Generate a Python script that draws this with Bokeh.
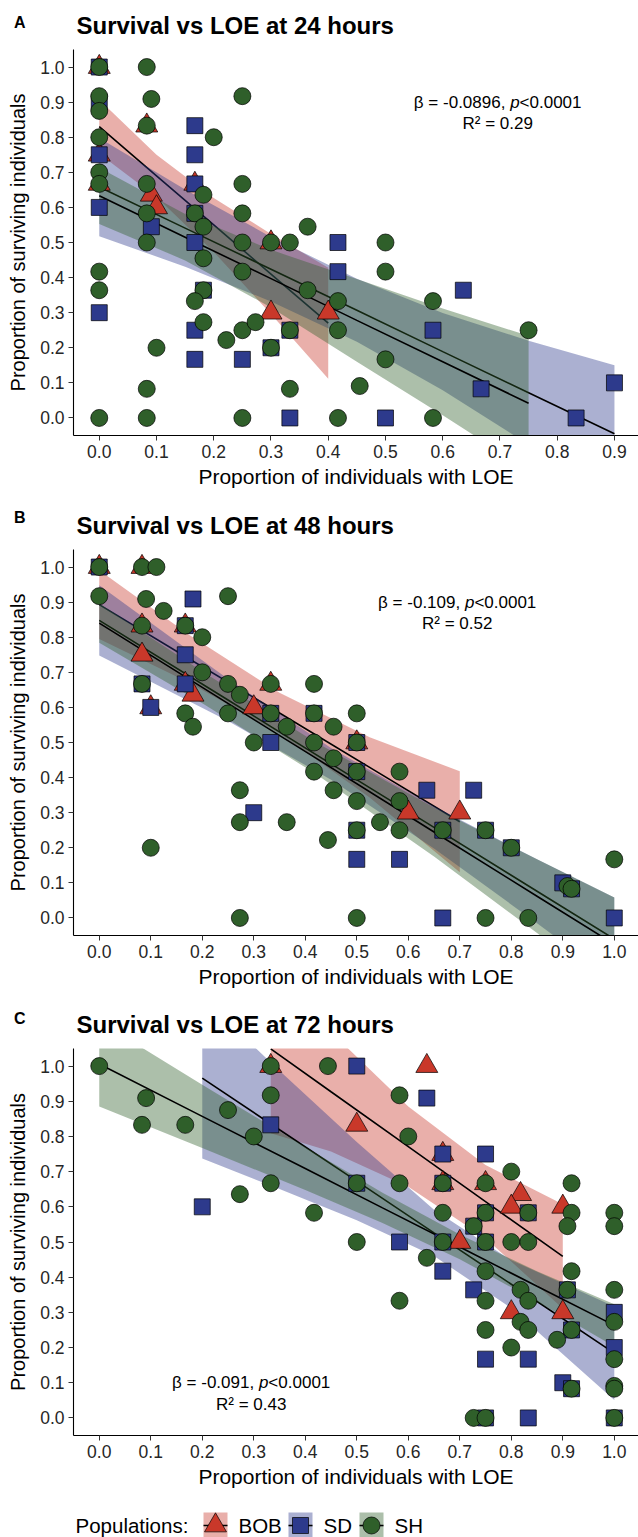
from bokeh.plotting import figure
from bokeh.layouts import column
from bokeh.models import Range1d, Label, FixedTicker, NumeralTickFormatter
from bokeh.embed import file_html
from bokeh.resources import INLINE

FONT = "Liberation Sans"
POPS = ["BOB", "SD", "SH"]
MARKER = {"BOB": "triangle", "SD": "square", "SH": "circle"}
FILL = {"BOB": "#C9382A", "SD": "#2D3A8C", "SH": "#2F5F2A"}
SIZE = {"BOB": 22, "SD": 16, "SH": 17}

# ---------------- 24 hours ----------------
h24_bob_x = [0, 0, 0, 0.083, 0.091, 0.1, 0.167, 0.3, 0.3, 0.4]
h24_bob_y = [1.0, 0.75, 0.667, 0.833, 0.636, 0.6, 0.667, 0.5, 0.3, 0.3]
h24_sd_x = [0, 0, 0, 0, 0, 0.091, 0.167, 0.167, 0.167, 0.167, 0.167, 0.182, 0.167, 0.167,
            0.25, 0.3, 0.333, 0.333, 0.417, 0.417, 0.5, 0.583, 0.636, 0.667, 0.833, 0.9]
h24_sd_y = [1.0, 0.9, 0.75, 0.6, 0.3, 0.545, 0.833, 0.75, 0.667, 0.583, 0.5, 0.364, 0.25, 0.167,
            0.167, 0.2, 0.25, 0, 0.5, 0.417, 0, 0.25, 0.364, 0.083, 0, 0.1]
h24_sh_x = [0, 0, 0, 0, 0, 0, 0, 0, 0,
            0.083, 0.091, 0.083, 0.083, 0.083, 0.083, 0.083, 0.083,
            0.1, 0.167, 0.182, 0.182, 0.182, 0.182, 0.167, 0.182, 0.2, 0.222,
            0.25, 0.25, 0.25, 0.25, 0.25, 0.25, 0.25, 0.273,
            0.3, 0.3, 0.333, 0.333, 0.333, 0.364, 0.364,
            0.417, 0.417, 0.417, 0.455, 0.5, 0.5, 0.5, 0.583, 0.583, 0.75]
h24_sh_y = [1.0, 0.917, 0.875, 0.8, 0.7, 0.667, 0.417, 0.364, 0,
            1.0, 0.909, 0.833, 0.667, 0.583, 0.5, 0.083, 0,
            0.2, 0.583, 0.636, 0.545, 0.455, 0.364, 0.333, 0.273, 0.8, 0.222,
            0.917, 0.667, 0.583, 0.5, 0.417, 0.25, 0, 0.273,
            0.5, 0.2, 0.5, 0.25, 0.083, 0.545, 0.364,
            0.333, 0.25, 0, 0.091, 0.5, 0.417, 0.167, 0.333, 0, 0.25]

# fitted lines with 95% bands: (x, fit, lower, upper)
fit24_bob = ([0.0, 0.1, 0.2, 0.3, 0.4],
             [0.83, 0.69, 0.55, 0.41, 0.27],
             [0.753, 0.630, 0.473, 0.296, 0.112],
             [0.907, 0.750, 0.627, 0.524, 0.428])
fit24_sd = ([0.0, 0.15, 0.3, 0.45, 0.6, 0.75, 0.9],
            [0.658, 0.541, 0.424, 0.307, 0.189, 0.072, -0.045],
            [0.518, 0.431, 0.332, 0.217, 0.079, -0.076, -0.240],
            [0.798, 0.651, 0.516, 0.397, 0.299, 0.220, 0.150])
fit24_sh = ([0.0, 0.15, 0.3, 0.45, 0.6, 0.75],
            [0.633, 0.515, 0.397, 0.278, 0.160, 0.042],
            [0.553, 0.449, 0.315, 0.160, 0.008, -0.150],
            [0.713, 0.581, 0.479, 0.396, 0.312, 0.234])

# ---------------- 48 hours ----------------
h48_bob_x = [0, 0.083, 0.083, 0.083, 0.1, 0.167, 0.167, 0.182, 0.3, 0.333, 0.5, 0.6, 0.7]
h48_bob_y = [1.0, 1.0, 0.833, 0.75, 0.6, 0.833, 0.667, 0.636, 0.6, 0.667, 0.5, 0.3, 0.3]
h48_sd_x = [0, 0.083, 0.1, 0.167, 0.167, 0.167, 0.182, 0.3, 0.333, 0.333, 0.417, 0.5, 0.5,
            0.5, 0.5, 0.583, 0.636, 0.667, 0.667, 0.727, 0.75, 0.8, 0.9, 0.917, 1.0]
h48_sd_y = [1.0, 0.667, 0.6, 0.833, 0.75, 0.667, 0.909, 0.3, 0.583, 0.5, 0.583, 0.5, 0.417,
            0.25, 0.167, 0.167, 0.364, 0.25, 0, 0.364, 0.25, 0.2, 0.1, 0.083, 0]
h48_sh_x = [0, 0, 0.083, 0.111, 0.091, 0.125, 0.083, 0.167, 0.2, 0.2, 0.083, 0.167, 0.182, 0.1,
            0.25, 0.25, 0.273, 0.25, 0.3, 0.273, 0.273, 0.273, 0.333, 0.333, 0.364, 0.364,
            0.417, 0.417, 0.417, 0.417, 0.455, 0.455, 0.455, 0.444, 0.5, 0.5, 0.5, 0.5, 0.5, 0.5,
            0.545, 0.583, 0.583, 0.583, 0.667, 0.75, 0.75, 0.8, 0.833, 0.909, 0.917, 1.0]
h48_sh_y = [1.0, 0.917, 1.0, 1.0, 0.909, 0.875, 0.833, 0.833, 0.8, 0.7, 0.667, 0.583, 0.545, 0.2,
            0.917, 0.667, 0.636, 0.583, 0.5, 0.364, 0.273, 0, 0.667, 0.583, 0.545, 0.273,
            0.667, 0.583, 0.5, 0.417, 0.545, 0.455, 0.364, 0.222, 0.583, 0.5, 0.417, 0.333, 0.25, 0,
            0.273, 0.417, 0.333, 0.25, 0.25, 0.25, 0, 0.2, 0, 0.091, 0.083, 0.167]

fit48_bob = ([0.0, 0.175, 0.35, 0.525, 0.7],
             [0.893, 0.738, 0.584, 0.429, 0.274],
             [0.795, 0.670, 0.526, 0.343, 0.130],
             [0.991, 0.806, 0.642, 0.515, 0.418])
fit48_sd = ([0.0, 0.25, 0.45, 0.65, 0.85, 1.0],
            [0.848, 0.621, 0.439, 0.258, 0.076, -0.060],
            [0.748, 0.561, 0.394, 0.198, -0.015, -0.178],
            [0.948, 0.681, 0.484, 0.318, 0.167, 0.058])
fit48_sh = ([0.0, 0.2, 0.42, 0.65, 0.85, 1.0],
            [0.840, 0.657, 0.456, 0.245, 0.062, -0.075],
            [0.784, 0.612, 0.411, 0.175, -0.043, -0.208],
            [0.896, 0.702, 0.501, 0.315, 0.167, 0.058])

# ---------------- 72 hours ----------------
h72_bob_x = [0.333, 0.636, 0.5, 0.667, 0.667, 0.75, 0.818, 0.8, 0.9, 0.7, 0.8, 0.9]
h72_bob_y = [1.0, 1.0, 0.833, 0.75, 0.667, 0.667, 0.636, 0.6, 0.6, 0.5, 0.3, 0.3]
h72_sd_x = [0.2, 0.333, 0.5, 0.636, 0.667, 0.75, 0.5, 0.667, 0.75, 0.833, 0.583, 0.667, 0.75,
            0.727, 0.667, 0.727, 0.909, 1.0, 0.917, 1.0, 0.75, 0.833, 0.9, 0.917, 0.75, 0.833, 1.0]
h72_sd_y = [0.6, 0.833, 1.0, 0.909, 0.75, 0.75, 0.667, 0.667, 0.583, 0.583, 0.5, 0.5, 0.5,
            0.545, 0.417, 0.364, 0.364, 0.3, 0.25, 0.2, 0.167, 0.167, 0.1, 0.083, 0, 0, 0]
h72_sh_x = [0, 0.091, 0.083, 0.167, 0.25, 0.3, 0.273, 0.333, 0.333, 0.333, 0.417, 0.444,
            0.583, 0.6, 0.5, 0.583, 0.667, 0.75, 0.8, 0.917, 0.5, 0.667, 0.75, 0.833, 0.917, 1.0,
            0.909, 1.0, 0.727, 0.667, 0.75, 0.8, 0.833, 0.636, 0.75, 0.917, 0.583, 0.818, 0.909,
            1.0, 0.75, 0.833, 1.0, 0.818, 0.917, 0.833, 0.75, 0.889, 0.8, 1.0, 0.917, 1.0, 1.0,
            0.727, 0.75, 1.0]
h72_sh_y = [1.0, 0.909, 0.833, 0.833, 0.875, 0.8, 0.636, 1.0, 0.917, 0.667, 0.583, 1.0,
            0.917, 0.8, 0.667, 0.667, 0.667, 0.667, 0.7, 0.667, 0.5, 0.583, 0.583, 0.583, 0.583, 0.583,
            0.545, 0.545, 0.545, 0.5, 0.5, 0.5, 0.5, 0.455, 0.417, 0.417, 0.333, 0.364, 0.364,
            0.364, 0.333, 0.333, 0.273, 0.273, 0.25, 0.25, 0.25, 0.222, 0.2, 0.167, 0.083, 0.091, 0.083,
            0, 0, 0]

fit72_bob = ([0.333, 0.45, 0.6, 0.75, 0.9],
             [1.049, 0.927, 0.771, 0.615, 0.459],
             [0.809, 0.757, 0.657, 0.511, 0.311],
             [1.289, 1.097, 0.885, 0.719, 0.607])
fit72_sd = ([0.2, 0.35, 0.5, 0.65, 0.8, 1.0],
            [0.966, 0.819, 0.673, 0.526, 0.380, 0.184],
            [0.737, 0.651, 0.562, 0.460, 0.312, 0.051],
            [1.195, 0.987, 0.784, 0.592, 0.448, 0.317])
fit72_sh = ([0.0, 0.2, 0.4, 0.55, 0.7, 0.85, 1.0],
            [1.006, 0.857, 0.709, 0.597, 0.486, 0.374, 0.263],
            [0.885, 0.767, 0.648, 0.554, 0.451, 0.331, 0.203],
            [1.127, 0.947, 0.770, 0.640, 0.521, 0.417, 0.323])

y_ticks = [0.0, 0.1, 0.2, 0.3, 0.4, 0.5, 0.6, 0.7, 0.8, 0.9, 1.0]
x_ticks_24 = [0.0, 0.1, 0.2, 0.3, 0.4, 0.5, 0.6, 0.7, 0.8, 0.9]
x_ticks_48 = [0.0, 0.1, 0.2, 0.3, 0.4, 0.5, 0.6, 0.7, 0.8, 0.9, 1.0]

# Arial/Liberation Sans advance widths (em), used to centre the mixed-style stat line
ADV = {c: 0.556 for c in "0123456789p"}
ADV.update({".": 0.278, ",": 0.278, " ": 0.278, "-": 0.333, "=": 0.584, "<": 0.584, "β": 0.576})


def text_w(s, size):
    return sum(ADV.get(c, 0.556) for c in s) * size


def stat_block(p, x, y1, y2, beta, r2, size=17.0):
    head = "β = %s," % beta
    tail = "<0.0001"
    w_head = text_w(head, size)
    w_gap = ADV[" "] * size
    w_p = ADV["p"] * size
    total = w_head + w_gap + w_p + text_w(tail, size)
    x0 = -total / 2.0
    common = dict(x=x, y=y1, text_font=FONT, text_font_size="%gpx" % size, text_color="black",
                  text_baseline="middle", text_align="left")
    p.add_layout(Label(x_offset=x0, text=head, **common))
    p.add_layout(Label(x_offset=x0 + w_head + w_gap, text="p", text_font_style="italic", **common))
    p.add_layout(Label(x_offset=x0 + w_head + w_gap + w_p, text=tail, **common))
    p.add_layout(Label(x=x, y=y2, text="R² = %s" % r2, text_font=FONT, text_font_size="%gpx" % size,
                       text_color="black", text_baseline="middle", text_align="center"))


def header(letter, title, height, title_y, letter_y):
    # strip above each panel: panel letter (as a lone tick label) and bold title
    h = figure(width=638, height=height, x_range=Range1d(73, 638), y_range=Range1d(0, height),
               title=None, output_backend="svg", toolbar_location=None, x_axis_location=None,
               min_border_left=73, min_border_right=0, min_border_top=0, min_border_bottom=0)
    h.outline_line_color = None
    h.grid.visible = False
    ax = h.yaxis[0]
    ax.ticker = FixedTicker(ticks=[letter_y])
    ax.major_label_overrides = {letter_y: letter}
    ax.axis_line_color = None
    ax.major_tick_line_color = None
    ax.minor_tick_line_color = None
    ax.major_tick_out = 0
    ax.major_tick_in = 0
    ax.major_label_standoff = 48
    ax.major_label_text_font = FONT
    ax.major_label_text_font_size = "16px"
    ax.major_label_text_font_style = "bold"
    ax.major_label_text_color = "black"
    h.text(x=[76], y=[title_y], text=[title], text_font={"value": FONT}, text_font_size="24px",
           text_font_style="bold", text_color="black", text_baseline="middle", text_align="left")
    return h


def panel(pts, fits, xr, xticks, height, top, bottom, stat):
    p = figure(width=638, height=height, x_range=Range1d(*xr), y_range=Range1d(-0.05, 1.05),
               title=None, output_backend="svg", toolbar_location=None,
               min_border_left=73, min_border_right=0, min_border_top=top, min_border_bottom=bottom)
    p.outline_line_color = None
    p.grid.visible = False
    p.background_fill_color = "white"
    p.border_fill_color = "white"

    # regression bands and lines, drawn group by group
    for pop in POPS:
        fx, fy, lo, hi = fits[pop]
        p.varea(x=fx, y1=lo, y2=hi, fill_color=FILL[pop], fill_alpha=0.4)
        p.line(x=fx, y=fy, line_color="black", line_width=1.6)

    # observations on top
    for pop in POPS:
        xs, ys = pts[pop]
        p.scatter(x=xs, y=ys, marker=MARKER[pop], size=SIZE[pop], fill_color=FILL[pop],
                  line_color="black", line_width=0.7)

    p.xaxis.ticker = FixedTicker(ticks=xticks)
    p.yaxis.ticker = FixedTicker(ticks=y_ticks)
    for ax in (p.xaxis[0], p.yaxis[0]):
        ax.formatter = NumeralTickFormatter(format="0.0")
        ax.axis_line_color = "black"
        ax.axis_line_width = 1.1
        ax.major_tick_line_color = "#333333"
        ax.major_tick_line_width = 1.0
        ax.major_tick_out = 5
        ax.major_tick_in = 0
        ax.minor_tick_line_color = None
        ax.major_label_text_font = FONT
        ax.major_label_text_font_size = "17.5px"
        ax.major_label_text_color = "#262626"
        ax.major_label_standoff = 4
        ax.axis_label_text_font = FONT
        ax.axis_label_text_font_style = "normal"
        ax.axis_label_text_color = "black"
    p.xaxis.axis_label = "Proportion of individuals with LOE"
    p.yaxis.axis_label = "Proportion of surviving individuals"
    p.xaxis.axis_label_text_font_size = "21px"
    p.yaxis.axis_label_text_font_size = "20px"
    p.xaxis.axis_label_standoff = 4
    p.yaxis.axis_label_standoff = 8
    stat_block(p, *stat)
    return p


hA = header("A", "Survival vs LOE at 24 hours", 44, 19.5, 22)
pA = panel({"BOB": (h24_bob_x, h24_bob_y), "SD": (h24_sd_x, h24_sd_y), "SH": (h24_sh_x, h24_sh_y)},
           {"BOB": fit24_bob, "SD": fit24_sd, "SH": fit24_sh},
           (-0.045, 0.942), x_ticks_24, 446, 5, 51, (0.696, 0.90, 0.84, "-0.0896", "0.29"))
hB = header("B", "Survival vs LOE at 48 hours", 54, 19.5, 27)
pB = panel({"BOB": (h48_bob_x, h48_bob_y), "SD": (h48_sd_x, h48_sd_y), "SH": (h48_sh_x, h48_sh_y)},
           {"BOB": fit48_bob, "SD": fit48_sd, "SH": fit48_sh},
           (-0.05, 1.047), x_ticks_48, 446, 5, 51, (0.695, 0.90, 0.84, "-0.109", "0.52"))
hC = header("C", "Survival vs LOE at 72 hours", 53, 19, 25.5)
pC = panel({"BOB": (h72_bob_x, h72_bob_y), "SD": (h72_sd_x, h72_sd_y), "SH": (h72_sh_x, h72_sh_y)},
           {"BOB": fit72_bob, "SD": fit72_sd, "SH": fit72_sh},
           (-0.05, 1.047), x_ticks_48, 447, 5, 52, (0.295, 0.10, 0.037, "-0.091", "0.43"))

# legend strip: one key per population (band colour, fit line, marker); x in page pixels
leg = figure(width=638, height=47, x_range=Range1d(73, 638), y_range=Range1d(0, 47),
             title=None, output_backend="svg", toolbar_location=None,
             x_axis_location=None, y_axis_location=None,
             min_border_left=73, min_border_right=0, min_border_top=0, min_border_bottom=0)
leg.outline_line_color = None
leg.grid.visible = False
key_x = {"BOB": 215, "SD": 300, "SH": 371}
lab_x = {"BOB": 238, "SD": 323, "SH": 394}
ky = 12
leg.text(x=[75], y=[ky], text=["Populations:"], text_font={"value": FONT}, text_font_size="20.5px",
         text_baseline="middle", text_align="left", text_color="black")
for pop in POPS:
    leg.rect(x=[key_x[pop]], y=[ky], width=24, height=26, fill_color=FILL[pop], fill_alpha=0.4,
             line_color=None)
    leg.segment(x0=[key_x[pop] - 12], y0=[ky], x1=[key_x[pop] + 12], y1=[ky], line_color="black",
                line_width=1.6)
    leg.scatter(x=[key_x[pop]], y=[ky], marker=MARKER[pop], size=SIZE[pop], fill_color=FILL[pop],
                line_color="black", line_width=0.7)
    leg.text(x=[lab_x[pop]], y=[ky], text=[pop], text_font={"value": FONT}, text_font_size="20.5px",
             text_baseline="middle", text_align="left", text_color="black")

page = column(hA, pA, hB, pB, hC, pC, leg, spacing=0)
open("out.html", "w").write(file_html(page, INLINE))
